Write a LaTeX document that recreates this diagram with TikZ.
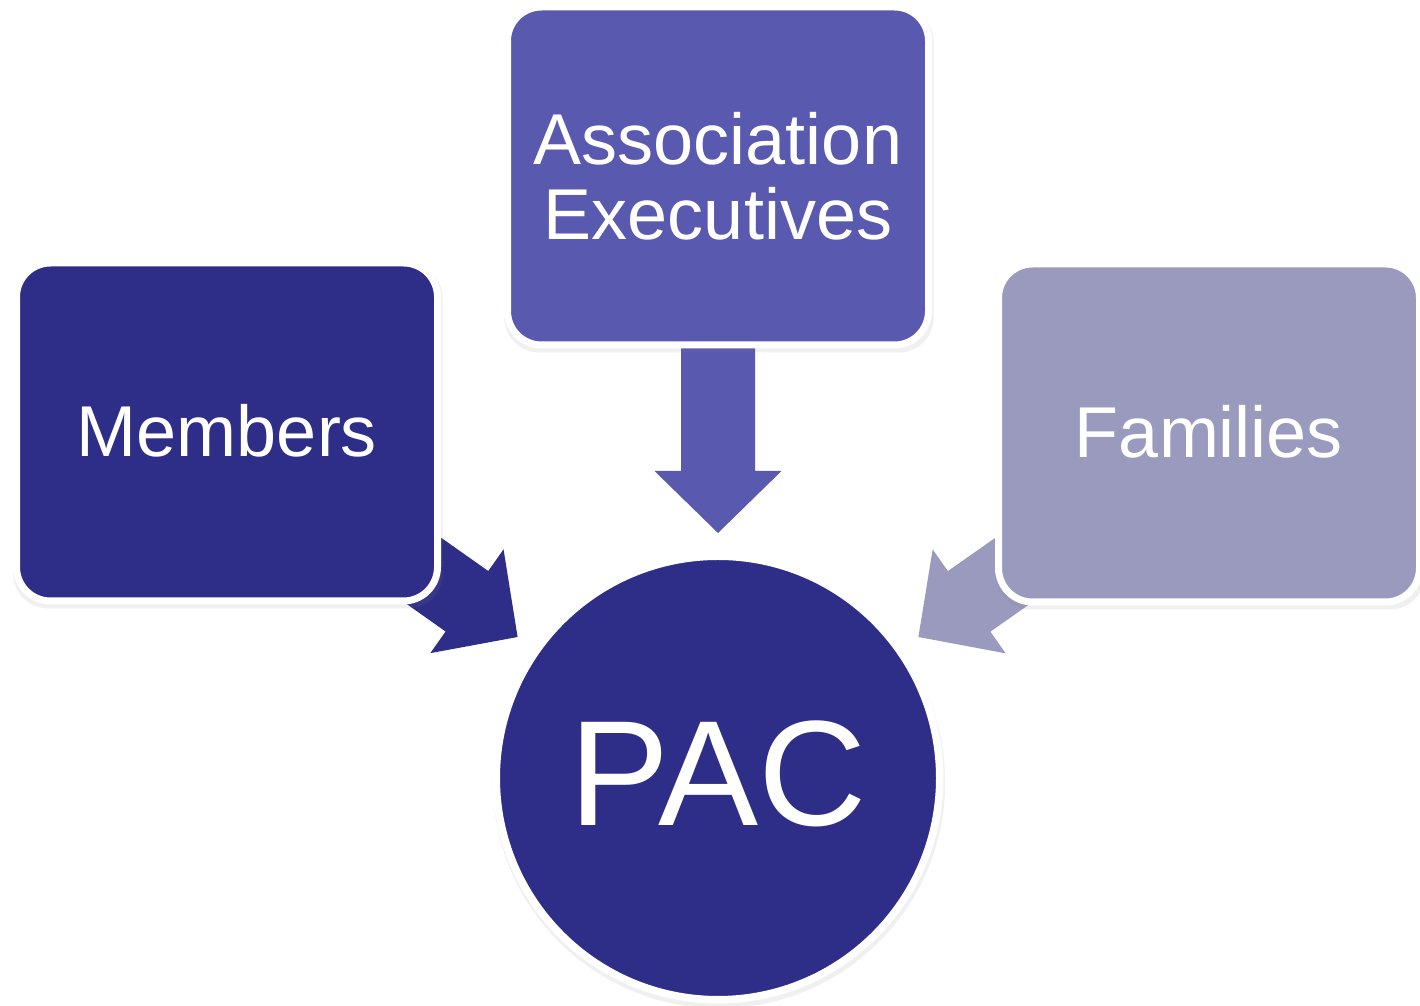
\documentclass[tikz,border=0pt]{standalone}
\usepackage{fontspec}
\setmainfont{Liberation Sans}
\usepackage{xcolor}
\usetikzlibrary{calc,shadows,backgrounds}
\definecolor{pacnavy}{RGB}{46,46,136}
\definecolor{execblue}{RGB}{90,89,176}
\definecolor{famgrey}{RGB}{154,154,190}
% block arrow from a node centre to a tip: #1 node, #2 tip, #3 colour
\newcommand{\feedarrow}[3]{%
  \coordinate (hb) at ($(#2)!31pt!(#1.center)$);
  \fill[#3] (#2) -- ($(hb)!31.75pt!90:(#1.center)$) -- ($(hb)!18.5pt!90:(#1.center)$)
    -- ($(#1.center)!18.5pt!-90:(hb)$) -- ($(#1.center)!18.5pt!90:(hb)$)
    -- ($(hb)!18.5pt!-90:(#1.center)$) -- ($(hb)!31.75pt!-90:(#1.center)$) -- cycle;}

\begin{document}
\begin{tikzpicture}[x=0.5pt,y=0.5pt,
  softshadow/.style={drop shadow={shadow scale=1.02,shadow xshift=0.5pt,shadow yshift=-2pt,opacity=0.12}},
  box/.style={rectangle,rounded corners=17pt,draw=white,line width=3.5pt,
    minimum width=210.5pt,minimum height=169pt,text=white,align=center,
    font=\fontsize{36}{37.5}\selectfont,softshadow},
  hub/.style={circle,draw=white,line width=3.75pt,minimum size=221.75pt,
    fill=pacnavy,text=white,font=\fontsize{75}{75}\selectfont,softshadow}]
\useasboundingbox (0,0) rectangle (1420,1006);

\node[box,fill=pacnavy] (members) at (227,574) {\raisebox{2pt}{Members}};
\node[box,fill=execblue] (assoc) at (718,830) {Association\\Executives};
\node[box,fill=famgrey] (families) at (1209,573) {\raisebox{2pt}{Families}};

\node[hub] (pac) at (718,228) {\raisebox{5pt}{PAC}};

\coordinate (membertip) at (517.6,369);
\coordinate (assoctip) at (718,473);
\coordinate (familytip) at (918.4,369);

\begin{scope}[on background layer]
\feedarrow{members}{membertip}{pacnavy}
\feedarrow{assoc}{assoctip}{execblue}
\feedarrow{families}{familytip}{famgrey}
\end{scope}
\end{tikzpicture}
\end{document}
